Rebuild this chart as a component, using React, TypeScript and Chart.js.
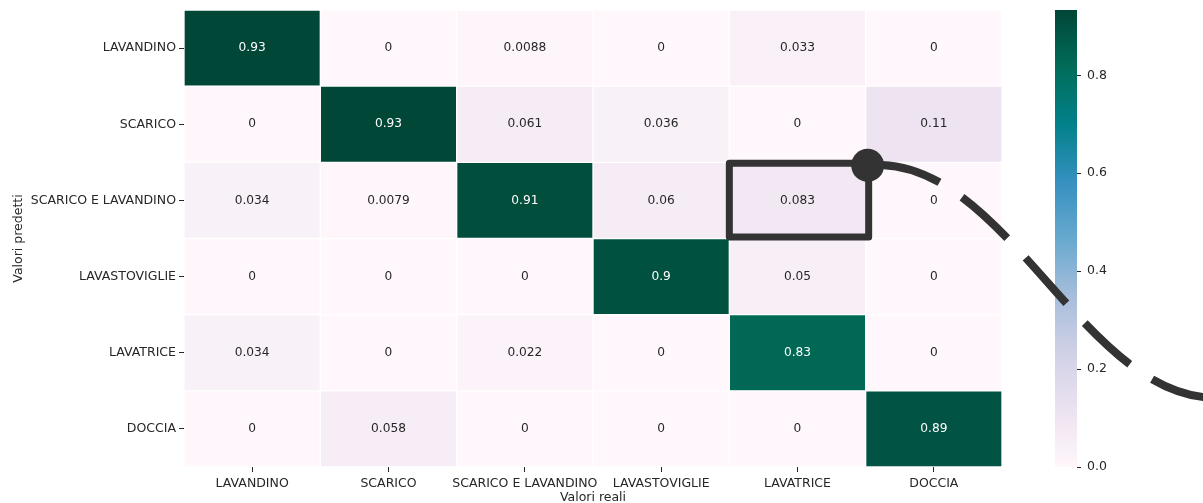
import React, { useEffect, useRef } from 'react';
import { Chart, registerables } from 'chart.js';

Chart.register(...registerables);

// ---- data ----
const predictedLabels = ['LAVANDINO', 'SCARICO', 'SCARICO E LAVANDINO', 'LAVASTOVIGLIE', 'LAVATRICE', 'DOCCIA'];
const actualLabels = ['LAVANDINO', 'SCARICO', 'SCARICO E LAVANDINO', 'LAVASTOVIGLIE', 'LAVATRICE', 'DOCCIA'];

const rowLavandino = [0.93, 0, 0.0088, 0, 0.033, 0];
const rowScarico = [0, 0.93, 0.061, 0.036, 0, 0.11];
const rowScaricoLavandino = [0.034, 0.0079, 0.91, 0.06, 0.083, 0];
const rowLavastoviglie = [0, 0, 0, 0.9, 0.05, 0];
const rowLavatrice = [0.034, 0, 0.022, 0, 0.83, 0];
const rowDoccia = [0, 0.058, 0, 0, 0, 0.89];

const matrix = [rowLavandino, rowScarico, rowScaricoLavandino, rowLavastoviglie, rowLavatrice, rowDoccia];

const colorbarTicks = [0, 0.2, 0.4, 0.6, 0.8];
const vmin = 0;
const vmax = 0.9333;

const highlightRow = 2;
const highlightCol = 4;

// PuBuGn colormap
const PUBUGN = ['#fff7fb', '#ece2f0', '#d0d1e6', '#a6bddb', '#67a9cf', '#3690c0', '#02818a', '#016c59', '#014636'];

function hexToRgb(h: string) {
  return [parseInt(h.slice(1, 3), 16), parseInt(h.slice(3, 5), 16), parseInt(h.slice(5, 7), 16)];
}

function cmap(t: number) {
  const tt = Math.max(0, Math.min(1, t));
  const n = PUBUGN.length - 1;
  const p = tt * n;
  const i = Math.min(n - 1, Math.floor(p));
  const f = p - i;
  const a = hexToRgb(PUBUGN[i]);
  const b = hexToRgb(PUBUGN[i + 1]);
  const c = a.map((v, k) => Math.round(v + (b[k] - v) * f));
  return `rgb(${c[0]},${c[1]},${c[2]})`;
}

const norm = (v: number) => (v - vmin) / (vmax - vmin);

const FONT = 'DejaVu Sans';
const TEXT = '#262626';
const ANNOT = '#333333';

const cellTextPlugin = {
  id: 'cellText',
  afterDatasetsDraw(chart: any) {
    const ctx = chart.ctx;
    ctx.save();
    ctx.font = `12.2px "${FONT}"`;
    ctx.textAlign = 'center';
    ctx.textBaseline = 'middle';
    chart.data.datasets.forEach((_: any, j: number) => {
      const meta = chart.getDatasetMeta(j);
      meta.data.forEach((bar: any, i: number) => {
        const v = matrix[i][j];
        const { x, y } = bar.getCenterPoint();
        ctx.fillStyle = norm(v) > 0.6 ? '#ffffff' : TEXT;
        ctx.fillText(String(v), x, y);
      });
    });
    ctx.restore();
  },
};

const colorbarPlugin = {
  id: 'colorbar',
  beforeDatasetsDraw(chart: any) {
    const s = chart.scales.cb;
    const ctx = chart.ctx;
    const yTop = s.getPixelForValue(vmax);
    const yBot = s.getPixelForValue(vmin);
    const x1 = s.left;
    const x0 = x1 - 22;
    const g = ctx.createLinearGradient(0, yBot, 0, yTop);
    PUBUGN.forEach((c, k) => g.addColorStop(k / (PUBUGN.length - 1), c));
    ctx.save();
    ctx.fillStyle = g;
    ctx.fillRect(x0, yTop, x1 - x0, yBot - yTop);
    ctx.restore();
  },
};

const overlayPlugin = {
  id: 'overlay',
  afterDraw(chart: any) {
    const xs = chart.scales.x;
    const ys = chart.scales.y;
    const ctx = chart.ctx;
    const band = Math.abs(ys.getPixelForValue(1) - ys.getPixelForValue(0));
    const cy = ys.getPixelForValue(highlightRow);
    const left = xs.getPixelForValue(highlightCol);
    const right = xs.getPixelForValue(highlightCol + 1);
    const top = cy - band / 2 + 1;
    const bottom = cy + band / 2 - 1.5;
    const rRight = right + 3;
    ctx.save();
    ctx.strokeStyle = ANNOT;
    ctx.lineWidth = 7;
    ctx.lineJoin = 'round';
    ctx.strokeRect(left, top, rRight - left, bottom - top);
    const ox = rRight - 1;
    const oy = top + 2;
    ctx.lineWidth = 8;
    ctx.lineCap = 'butt';
    ctx.setLineDash([61, 27]);
    ctx.lineDashOffset = 74;
    ctx.beginPath();
    ctx.moveTo(ox, oy);
    ctx.bezierCurveTo(ox + 140, oy - 13, ox + 218, oy + 245, ox + 358, oy + 232);
    ctx.stroke();
    ctx.setLineDash([]);
    ctx.fillStyle = ANNOT;
    ctx.beginPath();
    ctx.arc(ox, oy, 16.5, 0, Math.PI * 2);
    ctx.fill();
    ctx.restore();
  },
};

const zeroPad = (s: any) => {
  s.paddingTop = 0;
  s.paddingBottom = 0;
  s.paddingLeft = 0;
  s.paddingRight = 0;
};

export default function App() {
  const ref = useRef<HTMLCanvasElement | null>(null);

  useEffect(() => {
    if (!ref.current) return;
    Chart.defaults.font.family = FONT;
    Chart.defaults.font.size = 12;
    Chart.defaults.color = TEXT;

    const datasets = actualLabels.map((name, j) => ({
      label: name,
      data: predictedLabels.map(() => 1),
      backgroundColor: predictedLabels.map((_, i) => cmap(norm(matrix[i][j]))),
      borderColor: '#ffffff',
      borderWidth: 1,
      borderSkipped: false as any,
      categoryPercentage: 1,
      barPercentage: 1,
      xAxisID: 'x',
      yAxisID: 'y',
    }));

    const tickFont = { family: FONT, size: 12.5 };
    const titleFont = { family: FONT, size: 12.5 };

    const chart = new Chart(ref.current, {
      type: 'bar',
      data: { labels: predictedLabels, datasets },
      plugins: [colorbarPlugin, cellTextPlugin, overlayPlugin],
      options: {
        indexAxis: 'y',
        animation: false,
        responsive: false,
        devicePixelRatio: 1,
        layout: { padding: { top: 10, left: 0, right: 0, bottom: -2 } },
        plugins: { legend: { display: false }, tooltip: { enabled: false } },
        scales: {
          x: {
            type: 'linear',
            stacked: true,
            position: 'bottom',
            min: 0,
            max: actualLabels.length,
            afterBuildTicks: (s: any) => {
              s.ticks = actualLabels.map((_, j) => ({ value: j + 0.5 }));
            },
            afterFit: (s: any) => {
              s.height = 38;
              zeroPad(s);
            },
            ticks: {
              autoSkip: false,
              maxRotation: 0,
              minRotation: 0,
              padding: 4,
              color: TEXT,
              font: tickFont,
              callback: (v: any) => actualLabels[Math.round(Number(v) - 0.5)],
            },
            grid: { drawOnChartArea: false, drawTicks: true, tickLength: 5, color: TEXT },
            border: { display: false },
            title: { display: true, text: 'Valori reali', color: TEXT, font: titleFont, padding: { top: 0, bottom: 0 } },
          },
          y: {
            type: 'category',
            stacked: true,
            position: 'left',
            offset: true,
            afterFit: (s: any) => {
              s.width = 184;
              zeroPad(s);
            },
            ticks: { padding: 3, color: TEXT, font: tickFont, autoSkip: false },
            grid: { offset: false, drawOnChartArea: false, drawTicks: true, tickLength: 5, color: TEXT },
            border: { display: false },
            title: { display: true, text: 'Valori predetti', color: TEXT, font: titleFont, padding: { top: 11, bottom: 0 } },
          },
          spacer: {
            type: 'linear',
            position: 'right',
            weight: 0,
            min: 0,
            max: 1,
            offset: false,
            display: true,
            afterFit: (s: any) => {
              s.width = 75;
              zeroPad(s);
            },
            ticks: { display: false },
            grid: { display: false, offset: false },
            border: { display: false },
          },
          cb: {
            type: 'linear',
            position: 'right',
            weight: 1,
            min: vmin,
            max: vmax,
            offset: false,
            afterBuildTicks: (s: any) => {
              s.ticks = colorbarTicks.map((v) => ({ value: v }));
            },
            afterFit: (s: any) => {
              s.width = 126;
              zeroPad(s);
            },
            ticks: { padding: 6, color: TEXT, font: tickFont, callback: (v: any) => Number(v).toFixed(1) },
            grid: { offset: false, drawOnChartArea: false, drawTicks: true, tickLength: 4, color: TEXT },
            border: { display: false },
          },
        } as any,
      },
    } as any);

    return () => chart.destroy();
  }, []);

  return (
    <div style={{ position: 'fixed', left: 0, top: 0, width: 1203, height: 503, background: '#ffffff' }}>
      <canvas ref={ref} width={1203} height={503} style={{ width: 1203, height: 503, display: 'block' }} />
    </div>
  );
}
